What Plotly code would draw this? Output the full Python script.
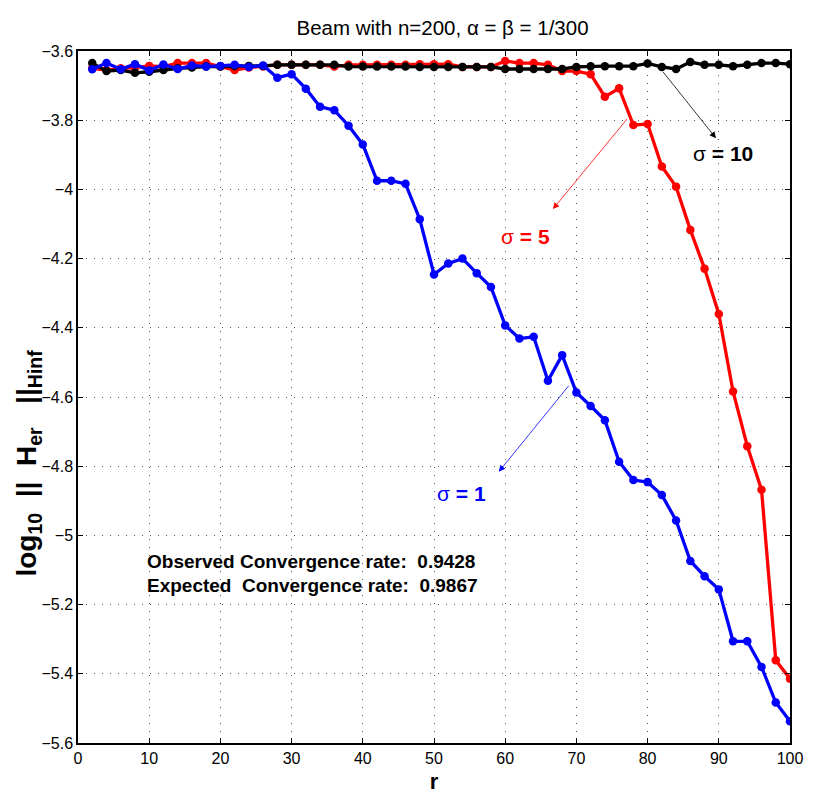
import plotly.graph_objects as go

r = list(range(2, 101, 2))

sigma1 = [-3.653, -3.635, -3.653, -3.638, -3.656, -3.639, -3.652, -3.642, -3.645, -3.643,
          -3.640, -3.646, -3.642, -3.677, -3.667, -3.709, -3.761, -3.771, -3.816, -3.870,
          -3.975, -3.975, -3.984, -4.086, -4.246, -4.214, -4.200, -4.242, -4.282, -4.393,
          -4.431, -4.426, -4.553, -4.479, -4.587, -4.626, -4.667, -4.787, -4.840, -4.846,
          -4.883, -4.957, -5.074, -5.118, -5.156, -5.306, -5.306, -5.380, -5.483, -5.537]

sigma5 = [-3.650, -3.655, -3.650, -3.648, -3.643, -3.645, -3.635, -3.635, -3.635, -3.645,
          -3.655, -3.648, -3.645, -3.640, -3.640, -3.640, -3.640, -3.645, -3.640, -3.640,
          -3.640, -3.640, -3.640, -3.638, -3.638, -3.638, -3.646, -3.646, -3.646, -3.629,
          -3.635, -3.635, -3.640, -3.658, -3.658, -3.667, -3.732, -3.708, -3.814, -3.811,
          -3.934, -3.992, -4.117, -4.229, -4.360, -4.584, -4.742, -4.868, -5.361, -5.414]

sigma10 = [-3.635, -3.658, -3.655, -3.663, -3.660, -3.655, -3.650, -3.648, -3.645, -3.645,
           -3.643, -3.643, -3.643, -3.640, -3.640, -3.640, -3.640, -3.640, -3.645, -3.645,
           -3.645, -3.645, -3.645, -3.646, -3.646, -3.646, -3.646, -3.646, -3.646, -3.652,
           -3.652, -3.652, -3.652, -3.652, -3.646, -3.644, -3.644, -3.644, -3.644, -3.636,
           -3.646, -3.652, -3.632, -3.640, -3.640, -3.644, -3.640, -3.635, -3.635, -3.638]

FONT = "Liberation Sans, Arial, sans-serif"
NB = "\u00a0"

fig = go.Figure()
for vals, col in [(sigma5, "red"), (sigma10, "black"), (sigma1, "blue")]:
    fig.add_trace(go.Scatter(x=r, y=vals, mode="lines+markers",
                             line=dict(color=col, width=3.3),
                             marker=dict(color=col, size=8.5),
                             showlegend=False))

arrows = [
    # (head_x, head_y, tail_x, tail_y, color)
    (89.6, -3.852, 82.0, -3.656, "black"),
    (66.7, -4.057, 77.3, -3.792, "red"),
    (59.1, -4.816, 69.1, -4.563, "blue"),
]
for hx, hy, tx, ty, col in arrows:
    fig.add_annotation(x=hx, y=hy, ax=tx, ay=ty, xref="x", yref="y", axref="x", ayref="y",
                       text="", showarrow=True, arrowhead=2, arrowsize=1.6, arrowwidth=0.8,
                       arrowcolor=col)

labels = [
    (90.6, -3.895, "σ <b>= 10</b>", "black"),
    (62.9, -4.137, "σ <b>= 5</b>", "red"),
    (53.9, -4.880, "σ <b>= 1</b>", "blue"),
]
for lx, ly, txt, col in labels:
    fig.add_annotation(x=lx, y=ly, xref="x", yref="y", text=txt, showarrow=False,
                       font=dict(family=FONT, size=21, color=col))

fig.add_annotation(x=9.4, y=-5.076, xref="x", yref="y", xanchor="left",
                   text="<b>Observed Convergence rate:" + NB + NB + "0.9428</b>", showarrow=False,
                   font=dict(family=FONT, size=19, color="black"))
fig.add_annotation(x=9.4, y=-5.145, xref="x", yref="y", xanchor="left",
                   text="<b>Expected" + NB + NB + "Convergence rate:" + NB + NB + "0.9867</b>",
                   showarrow=False,
                   font=dict(family=FONT, size=19, color="black"))

# y-axis title as rotated annotation (placed like the reference)
fig.add_annotation(x=-0.069, y=0.405, xref="paper", yref="paper",
                   text="<b>log<sub>10</sub>" + NB * 2 + "||" + NB * 2 + "H<sub>er</sub>" + NB * 3
                        + "||<sub>Hinf</sub></b>",
                   textangle=-90, showarrow=False, xanchor="center", yanchor="middle",
                   font=dict(family=FONT, size=28, color="black"))

axis_common = dict(showline=True, linecolor="black", linewidth=1.5, mirror="ticks",
                   ticks="inside", ticklen=5, tickcolor="black",
                   showgrid=True, gridcolor="#555555", griddash="1px,7px", gridwidth=1,
                   zeroline=False, tickfont=dict(family=FONT, size=16, color="black"))

fig.update_xaxes(range=[0, 100], dtick=10, tick0=0,
                 title=dict(text="<b>r</b>", font=dict(family=FONT, size=22, color="black"),
                            standoff=8),
                 **axis_common)
fig.update_yaxes(range=[-5.6, -3.6], dtick=0.2, tick0=-3.6, **axis_common)

fig.update_layout(
    width=815, height=802,
    margin=dict(l=78, r=23, t=51, b=58),
    paper_bgcolor="white", plot_bgcolor="white",
    title=dict(text="Beam with n=200, α = β = 1/300", x=0.543, xanchor="center",
               y=0.965, yanchor="middle",
               font=dict(family=FONT, size=20.5, color="black")),
)

fig.write_html("out.html")
